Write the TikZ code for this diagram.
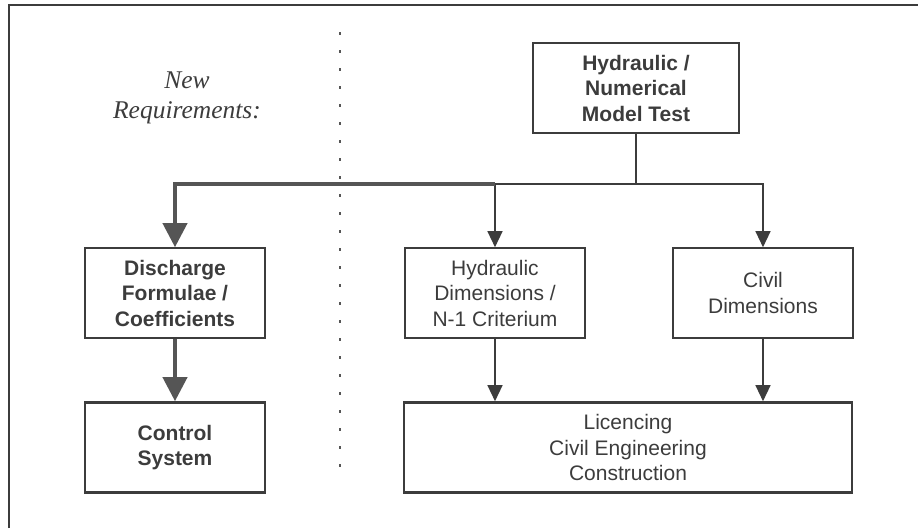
\documentclass[tikz,border=0pt]{standalone}
\usepackage{fontspec}
\setmainfont{Liberation Sans}
\newfontfamily\reqfont{Liberation Serif}
\usetikzlibrary{arrows.meta,positioning}

\definecolor{boxgray}{HTML}{3C3C3C}
\definecolor{arrowgray}{HTML}{555555}

\begin{document}
\begin{tikzpicture}[x=1pt,y=1pt,>={Triangle[width=15pt,length=16pt]},
  box/.style={draw=boxgray,line width=1.6pt,minimum width=180pt,minimum height=90pt,inner sep=0pt,align=center,text=boxgray,font=\fontsize{21}{25.5}\selectfont},
  heavy/.style={line width=2.6pt},
  strong/.style={font=\fontsize{21}{25.5}\bfseries\selectfont},
  link/.style={draw=boxgray,line width=1.3pt},
  flow/.style={link,->},
  mainflow/.style={draw=arrowgray,line width=4pt,-{Triangle[width=24pt,length=24pt]}}]
  \useasboundingbox (0,0) rectangle (918,-528);

  % frame and separator
  \draw[boxgray,line width=1.8pt] (9,-528) -- (9,-5) -- (918,-5);
  \draw[arrowgray,line width=1.5pt,dash pattern=on 3pt off 15pt] (340,-32) -- (340,-480);

  \node[font=\reqfont\itshape\fontsize{25.5}{30}\selectfont,align=center,text=boxgray] (req) at (187,-98) {New\\Requirements:};

  \node[box,heavy,strong,minimum width=206pt] (model) at (636,-88) {Hydraulic /\\Numerical\\Model Test};
  \node[box,strong]        (dis) at (175,-293) {Discharge\\Formulae /\\Coefficients};
  \node[box]        (hyd) [right of=dis,node distance=320pt] {Hydraulic\\Dimensions /\\N-1 Criterium};
  \node[box]        (civ) [right of=hyd,node distance=268pt] {Civil\\Dimensions};
  \node[box,heavy,strong]  (ctrl) [below of=dis,node distance=154.5pt] {Control\\System};
  \node[box,heavy,minimum width=448pt] (lic) at (628,-447.5) {Licencing\\Civil Engineering\\Construction};
  \coordinate (split) at (636,-184);

  \draw[link] (model) -- (split);
  \draw[flow] (split) -| (civ);
  \draw[flow] (split) -| (hyd);
  \draw[mainflow] (hyd |- split) -| (dis);
  \draw[mainflow] (dis) -- (ctrl);
  \draw[flow] (hyd.south) -- (hyd.south |- lic.north);
  \draw[flow] (civ.south) -- (civ.south |- lic.north);
\end{tikzpicture}
\end{document}
